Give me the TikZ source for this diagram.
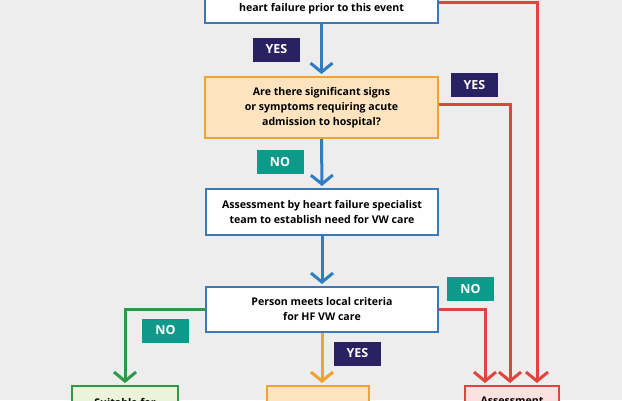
\documentclass[tikz,border=0pt]{standalone}
\usepackage{fontspec}
\setmainfont{Open Sans}
\usetikzlibrary{arrows.meta,calc}
\definecolor{bg}{HTML}{EDEDED}
\definecolor{bblue}{HTML}{3B78B4}
\definecolor{ablue}{HTML}{2F7DC2}
\definecolor{oborder}{HTML}{F0A232}
\definecolor{ofill}{HTML}{FDE4BE}
\definecolor{ared}{HTML}{E0443F}
\definecolor{rfill}{HTML}{FCE1E1}
\definecolor{agreen}{HTML}{2C9A47}
\definecolor{gfill}{HTML}{E9F4D9}
\definecolor{navy}{HTML}{2A2163}
\definecolor{teal}{HTML}{0E9A8B}
\tikzset{
  boxtext/.style={font=\bfseries\fontsize{10.6}{15}\selectfont, align=center},
  bluebox/.style={draw=bblue, line width=2pt, fill=white, boxtext, inner sep=0pt},
  orangebox/.style={draw=oborder, line width=2pt, fill=ofill, boxtext, inner sep=0pt},
  tag/.style={font=\bfseries\fontsize{12.5}{14}\selectfont, text=white, minimum width=47pt, minimum height=24pt, inner sep=0pt},
  yestag/.style={tag, fill=navy},
  notag/.style={tag, fill=teal},
  conn/.style={line width=3pt, -{Straight Barb[length=9pt,width=22pt]}, shorten >=2pt},
  blueconn/.style={conn, draw=ablue},
  redconn/.style={conn, draw=ared},
  greenconn/.style={conn, draw=agreen},
  orangeconn/.style={conn, draw=oborder},
}
\begin{document}
\begin{tikzpicture}[x=1pt,y=-1pt]
\useasboundingbox (0,0) rectangle (622,400);
\fill[bg] (0,0) rectangle (622,400);
\clip (0,0) rectangle (622,400);

% boxes
\node[bluebox, minimum width=233pt, minimum height=63pt] (top) at (321.5,-8.5) {};
\node[boxtext] (toptext) at (321.5,9) {heart failure prior to this event};
\node[orangebox, minimum width=233pt, minimum height=61pt] (q) at (321.5,107.5)
  {Are there significant signs\\or symptoms requiring acute\\admission to hospital?};
\node[bluebox, minimum width=232pt, minimum height=46pt] (asm) at (322,212)
  {Assessment by heart failure specialist\\team to establish need for VW care};
\node[bluebox, minimum width=232pt, minimum height=45pt] (person) at (322,309.5)
  {Person meets local criteria\\for HF VW care};

\node[draw=agreen, line width=2pt, fill=gfill, boxtext, minimum width=106pt, minimum height=50pt, anchor=north, inner ysep=12pt, inner xsep=0pt, text depth=28pt] (gb) at (125,385) {Suitable for};
\node[draw=oborder, line width=2pt, fill=ofill, minimum width=102pt, minimum height=50pt, anchor=north] (ob) at (318,385) {};
\node[draw=ared, line width=2pt, fill=rfill, boxtext, minimum width=94pt, minimum height=50pt, anchor=north, inner ysep=11pt, inner xsep=0pt, text depth=28pt] (rb) at (512,385) {Assessment};

% connectors
\draw[blueconn] (top.south) -- (q.north);
\draw[blueconn] (q.south) -- (asm.north);
\draw[blueconn] (asm.south) -- (person.north);
\draw[orangeconn] (person.south) -- (person.south |- ob.north);

\coordinate (r1) at ($(rb.north)+(-27,0)$);
\coordinate (r2) at ($(rb.north)+(-2,0)$);
\coordinate (r3) at ($(rb.north)+(25,0)$);
\draw[redconn] ($(person.east)+(0,-0.5)$) -| (r1);
\draw[redconn] ($(q.east)+(0,-3.5)$) -| (r2);
\draw[redconn] ($(top.south east)+(0,-22)$) -| (r3);
\draw[greenconn] ($(person.west)+(0,-0.5)$) -| (gb.north);

% tags
\node[yestag] (y1) at (276.5,49.5) {YES};
\node[yestag] (y2) at (474.5,85) {YES};
\node[notag] (n1) at (280,162) {NO};
\node[notag] (n2) at (470.5,289) {NO};
\node[notag] (n3) at (165.5,330.5) {NO};
\node[yestag] (y3) at (357.5,353.5) {YES};
\end{tikzpicture}
\end{document}
